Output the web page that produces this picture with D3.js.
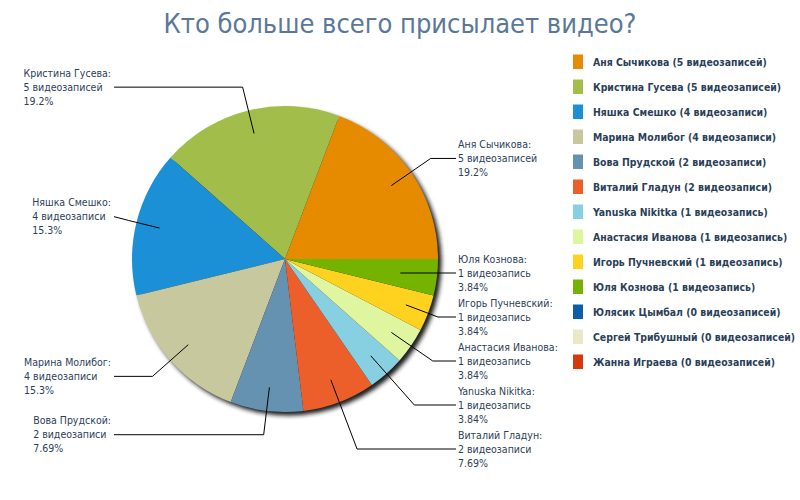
<!DOCTYPE html>
<html>
<head>
<meta charset="utf-8">
<script src="https://cdn.jsdelivr.net/npm/d3@7"></script>
<style>
body { margin: 0; background: #fff; }
text { font-family: 'DejaVu Sans Condensed', 'DejaVu Sans', sans-serif; font-stretch: condensed; }
</style>
</head>
<body>
<script>
// data
const title = 'Кто больше всего присылает видео?'
const names = ['Аня Сычикова', 'Кристина Гусева', 'Няшка Смешко', 'Марина Молибог', 'Вова Прудской',
    'Виталий Гладун', 'Yanuska Nikitka', 'Анастасия Иванова', 'Игорь Пучневский', 'Юля Кознова',
    'Юлясик Цымбал', 'Сергей Трибушный', 'Жанна Играева']
const counts = [5, 5, 4, 4, 2, 2, 1, 1, 1, 1, 0, 0, 0]
const colors = ['#e68a00', '#a3bd4b', '#1b90d6', '#c8c89f', '#6692b2', '#ec5f2a', '#87d0e2',
    '#e0f5a0', '#ffd21f', '#74b300', '#0c5ea8', '#ebe7c8', '#d3390d']

const width = 800
const height = 500
const cx = 285
const cy = 259
const r = 153

const rows = names.map((n, i) => ({ name: n, count: counts[i], color: colors[i] }))
const total = d3.sum(counts)

function plural(n) {
    const m10 = n % 10, m100 = n % 100
    if (m10 === 1 && m100 !== 11) return 'видеозапись'
    if (m10 >= 2 && m10 <= 4 && (m100 < 10 || m100 >= 20)) return 'видеозаписи'
    return 'видеозаписей'
}

// percentages are cut, not rounded, to three digits
function pct(v) {
    const p = v / total * 100
    const k = p >= 10 ? 1 : 2
    return (Math.floor(p * Math.pow(10, k)) / Math.pow(10, k)).toFixed(k) + '%'
}

const svg = d3.select('body').append('svg')
    .attr('width', width)
    .attr('height', height)

const defs = svg.append('defs')
defs.append('filter').attr('id', 'shadow')
    .attr('x', '-20%').attr('y', '-20%').attr('width', '140%').attr('height', '140%')
    .append('feGaussianBlur').attr('stdDeviation', 2.2)

svg.append('text')
    .attr('x', width / 2)
    .attr('y', 33)
    .attr('text-anchor', 'middle')
    .style('font-size', '27px')
    .style('fill', '#5b7899')
    .text(title)

const stage = svg.append('g').attr('transform', `translate(${cx},${cy})`)

stage.append('circle')
    .attr('cx', 3.5).attr('cy', 3.5).attr('r', r)
    .attr('fill', '#1a1a1a')
    .attr('filter', 'url(#shadow)')

// counter-clockwise from three o'clock
const pie = d3.pie().sort(null).value(d => d.count)
    .startAngle(Math.PI / 2).endAngle(Math.PI / 2 - 2 * Math.PI)
const arcs = pie(rows)
const arc = d3.arc().innerRadius(0).outerRadius(r)

stage.selectAll('path.slice')
    .data(arcs)
    .enter()
    .append('path')
    .attr('class', 'slice')
    .attr('d', arc)
    .attr('fill', d => d.data.color)

// label layout
const lineH = 14
const gap = 44
const labelR = r + 24
const bottom = r + 37
const connect = r + 18

const labels = arcs.filter(a => a.value > 0).map(a => {
    const mid = (a.startAngle + a.endAngle) / 2
    const dx = Math.sin(mid), dy = -Math.cos(mid)
    return { a, mid, dx, dy, side: dx > 0 ? 1 : -1, y: dy * labelR }
})

;[1, -1].forEach(side => {
    const group = labels.filter(l => l.side === side).sort((p, q) => p.y - q.y)
    for (let i = 1; i < group.length; i++) group[i].y = Math.max(group[i].y, group[i - 1].y + gap)
    if (group.length) group[group.length - 1].y = Math.min(group[group.length - 1].y, bottom)
    for (let i = group.length - 2; i >= 0; i--) group[i].y = Math.min(group[i].y, group[i + 1].y - gap)
})

const labelG = stage.append('g')

labels.forEach(l => {
    const ex = l.side * connect
    const r0 = r * 0.845
    let start = [l.dx * r0, l.dy * r0]
    let t = l.dy !== 0 ? l.y / l.dy : -1
    let kink
    if (t > 0 && t < r0 && t > r * 0.5) {
        start = [l.dx * t, l.y]
        kink = start
    } else if (t >= r0 && l.dx * t * l.side < connect) {
        kink = [l.dx * t, l.y]
    } else {
        kink = [l.dx * (r + 8), l.dy * (r + 8)]
    }

    labelG.append('path')
        .attr('d', d3.line()([start, kink, [ex, l.y]]))
        .attr('fill', 'none')
        .attr('stroke', '#000')
        .attr('stroke-width', 1)

    const txt = labelG.append('text')
        .style('font-size', '10.5px')
        .style('fill', '#2d4159')
    const lines = [l.a.data.name + ':', l.a.data.count + ' ' + plural(l.a.data.count), pct(l.a.data.count)]
    lines.forEach((s, i) => {
        txt.append('tspan')
            .attr('y', l.y + (i - 1) * lineH)
            .attr('dy', '0.35em')
            .text(s)
    })
    let tx = ex + 2
    if (l.side < 0) {
        const w = d3.max(txt.selectAll('tspan').nodes(), n => n.getComputedTextLength())
        tx = ex - 3 - w
    }
    txt.selectAll('tspan').attr('x', tx)
})

// legend
const legend = svg.append('g').attr('transform', 'translate(573,62)')
const item = legend.selectAll('g')
    .data(rows)
    .enter()
    .append('g')
    .attr('transform', (d, i) => `translate(0,${i * 25})`)

item.append('rect')
    .attr('x', 0).attr('y', -7.5)
    .attr('width', 10).attr('height', 14.5)
    .attr('fill', d => d.color)

item.append('text')
    .attr('x', 20)
    .attr('dy', '0.35em')
    .style('font-size', '10.4px')
    .style('font-weight', 'bold')
    .style('fill', '#2b3f5a')
    .text(d => `${d.name} (${d.count} ${plural(d.count)})`)
</script>
</body>
</html>
